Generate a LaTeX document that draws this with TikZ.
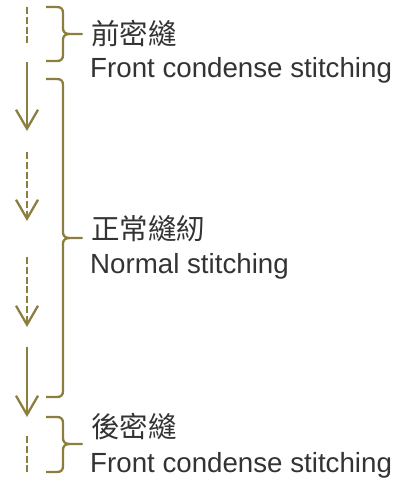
\documentclass[tikz,border=0pt]{standalone}
\usepackage{fontspec}
\setmainfont{Liberation Sans}
\newfontfamily\cjk{Noto Sans CJK TC}
\usetikzlibrary{arrows.meta}
\definecolor{olive}{HTML}{8C7E3E}
\definecolor{txt}{HTML}{333333}
\tikzset{
  seam/.style={draw=olive, line width=2.3pt},
  dashseam/.style={seam, dash pattern=on 7pt off 2.8pt},
  arrowseam/.style={-{Straight Barb[length=19pt,width=22pt,line width=2.3pt]}},
  bracket/.style={draw=olive, line width=2.3pt, line join=round},
  cjklabel/.style={anchor=base west, inner sep=0pt, text=txt, font=\cjk\fontsize{28.5}{30}\selectfont},
  enlabel/.style={anchor=base west, inner sep=0pt, text=txt, font=\fontsize{27.7}{30}\selectfont},
}
\newcommand\stitchbrace[3]{%
  \draw[bracket] (46,#1) -- (57,#1) .. controls (61,#1) and (63,#1+2) .. (63,#1+6)
    -- (63,#2-6) .. controls (63,#2-2) and (65,#2) .. (70,#2) -- (82,#2)
    -- (70,#2) .. controls (65,#2) and (63,#2+2) .. (63,#2+6)
    -- (63,#3-6) .. controls (63,#3-2) and (61,#3) .. (57,#3) -- (46,#3);}
\begin{document}
\begin{tikzpicture}[x=1pt,y=-1pt]
\useasboundingbox (0,0) rectangle (406,479);
% seam segments
\coordinate (s1a) at (27,7);   \coordinate (s1b) at (27,43);
\coordinate (s2a) at (27,62);  \coordinate (s2b) at (27,131);
\coordinate (s3a) at (27,152); \coordinate (s3b) at (27,221);
\coordinate (s4a) at (27,257); \coordinate (s4b) at (27,327);
\coordinate (s5a) at (27,347); \coordinate (s5b) at (27,417);
\coordinate (s6a) at (27,436); \coordinate (s6b) at (27,472);
\draw[dashseam] (s1a) -- (s1b);
\draw[seam, arrowseam] (s2a) -- (s2b);
\draw[dashseam, arrowseam] (s3a) -- (s3b);
\draw[dashseam, arrowseam] (s4a) -- (s4b);
\draw[seam, arrowseam] (s5a) -- (s5b);
\draw[dashseam] (s6a) -- (s6b);
% braces
\stitchbrace{7}{34}{61}
\stitchbrace{79}{238}{397}
\stitchbrace{417}{444}{472}
% labels
\node[cjklabel] (l1) at (91,44) {前密縫};
\node[enlabel] (e1) at (90,77) {Front condense stitching};
\node[cjklabel] (l2) at (91,239) {正常縫紉};
\node[enlabel] (e2) at (90,273) {Normal stitching};
\node[cjklabel] (l3) at (91,437) {後密縫};
\node[enlabel] (e3) at (90,472) {Front condense stitching};
\end{tikzpicture}
\end{document}
